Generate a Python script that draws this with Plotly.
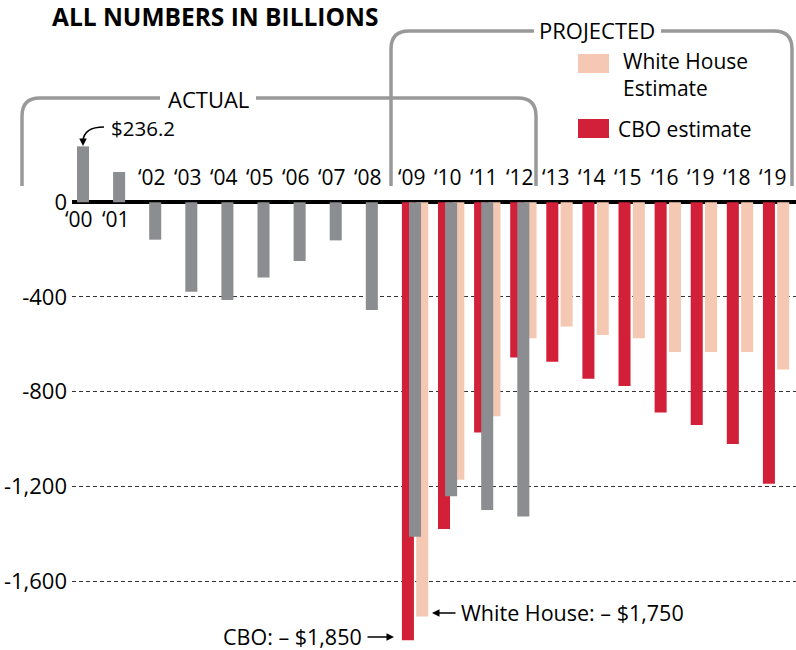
import plotly.graph_objects as go

# deficits, billions of dollars
year_labels = ["‘00", "‘01", "‘02", "‘03", "‘04", "‘05", "‘06", "‘07", "‘08", "‘09",
               "‘10", "‘11", "‘12", "‘13", "‘14", "‘15", "‘16", "‘19", "‘18", "‘19"]
label_years = list(range(2000, 2020))

actual_years = list(range(2000, 2013))
actual = [236.2, 128, -158, -378, -413, -318, -248, -161, -455, -1413, -1242, -1300, -1327]

proj_years = list(range(2009, 2020))
cbo = [-1850, -1380, -972, -656, -674, -745, -776, -888, -941, -1021, -1189]
white_house = [-1750, -1172, -904, -574, -525, -561, -574, -632, -632, -632, -706]

y_ticks = [0, -400, -800, -1200, -1600]
y_tick_text = ["0", "-400", "-800", "-1,200", "-1,600"]

GRAY = "#8c8d90"
RED = "#d12038"
PEACH = "#f4c8b2"
BRACKET = "#999999"
FONT = "Open Sans"

W, H = 796, 650
L, R, T, B = 72, 0, 136, 5


# pixel -> paper helpers for the decorations
def px(x):
    return (x - L) / (W - L - R)


def py(y):
    return (H - B - y) / (H - T - B)


fig = go.Figure()
fig.add_bar(x=proj_years, y=cbo, marker_color=RED, marker_line_width=0,
            width=1 / 3, offset=-1 / 6)
fig.add_bar(x=proj_years, y=white_house, marker_color=PEACH, marker_line_width=0,
            width=1 / 3, offset=0.23)
fig.add_bar(x=actual_years, y=actual, marker_color=GRAY, marker_line_width=0,
            width=1 / 3, offset=[-1 / 6 if yr < 2009 else 0.03 for yr in actual_years])

# year labels: most above the zero line, the two surplus years below
annotations = []
for yr, lab in zip(label_years, year_labels):
    dx = -0.1 if yr < 2009 else 0.11
    annotations.append(dict(x=yr + dx, y=0, xref="x", yref="y", text=lab, showarrow=False,
                            yshift=-17 if yr < 2002 else 25, font=dict(size=21)))


def bracket(x0, x1, ytop, ybot, gap0, gap1, r=18):
    left = (f"M {px(x0)},{py(ybot)} L {px(x0)},{py(ytop + r)} "
            f"Q {px(x0)},{py(ytop)} {px(x0 + r)},{py(ytop)} L {px(gap0)},{py(ytop)}")
    right = (f"M {px(gap1)},{py(ytop)} L {px(x1 - r)},{py(ytop)} "
             f"Q {px(x1)},{py(ytop)} {px(x1)},{py(ytop + r)} L {px(x1)},{py(ybot)}")
    return [dict(type="path", xref="paper", yref="paper", path=p,
                 line=dict(color=BRACKET, width=3.5)) for p in (left, right)]


shapes = []
shapes += bracket(22, 536, 98, 186, 160, 256)
shapes += bracket(391, 792, 31, 186, 534, 661)

# legend swatches
shapes.append(dict(type="rect", xref="paper", yref="paper", x0=px(578), x1=px(609),
                   y0=py(73), y1=py(54), fillcolor=PEACH, line_width=0))
shapes.append(dict(type="rect", xref="paper", yref="paper", x0=px(578), x1=px(609),
                   y0=py(138), y1=py(119), fillcolor=RED, line_width=0))

# curved pointer to the 2000 surplus
shapes.append(dict(type="path", xref="paper", yref="paper",
                   path=f"M {px(104)},{py(127)} Q {px(84)},{py(127)} {px(83)},{py(141)}",
                   line=dict(color="black", width=1.5)))


def text(x, y, s, size=20, anchor="center", **kw):
    annotations.append(dict(x=px(x), y=py(y), xref="paper", yref="paper", text=s,
                            showarrow=False, xanchor=anchor, yanchor="middle",
                            align="left", font=dict(size=size, **kw)))


def arrow(x, y, ax, ay):
    annotations.append(dict(x=px(x), y=py(y), xref="paper", yref="paper", text="",
                            showarrow=True, ax=ax, ay=ay, arrowhead=2, arrowsize=1,
                            arrowwidth=1.5, arrowcolor="black", standoff=0))


text(215, 17, "<b>ALL NUMBERS IN BILLIONS</b>", size=24.5)
text(208, 99, "ACTUAL", size=22)
text(597, 30, "PROJECTED", size=22)
text(621, 75, "White House<br>Estimate", size=21, anchor="left")
text(616, 129, "CBO estimate", size=21, anchor="left")
text(109, 128, "$236.2", size=20.5, anchor="left")
arrow(83, 146, 0, -7)
text(459, 612, "White House: – $1,750", size=21.5, anchor="left")
arrow(432, 613, 25, 0)
text(364, 636, "CBO: – $1,850", size=21.5, anchor="right")
arrow(394, 637, -28, 0)

fig.update_layout(
    width=W, height=H,
    margin=dict(l=L, r=R, t=T, b=B),
    paper_bgcolor="white", plot_bgcolor="white",
    barmode="overlay", showlegend=False,
    font=dict(family=FONT, color="black"),
    annotations=annotations, shapes=shapes,
    xaxis=dict(range=[1999.695, 2019.75], visible=False),
    yaxis=dict(range=[-1870, 280], tickvals=y_ticks, ticktext=y_tick_text,
               tickfont=dict(size=22), ticklabelstandoff=4,
               showgrid=True, gridcolor="#333333", gridwidth=1, griddash="4px,3px",
               zeroline=True, zerolinecolor="black", zerolinewidth=4,
               showline=False, ticks=""),
)

# the page body has a default 8px margin; drop it so the figure sits at the corner
fig.write_html("out.html", config={"displayModeBar": False},
               post_script="document.body.style.margin = '0';")
